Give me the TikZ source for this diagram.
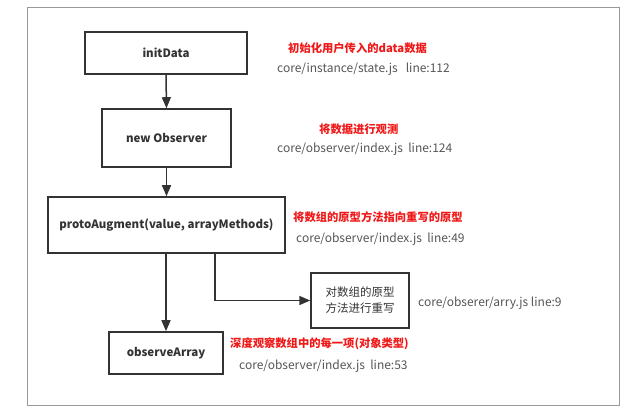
\documentclass[tikz,border=0pt]{standalone}
\usepackage{fontspec}
\setmainfont{Noto Sans CJK SC}
\usetikzlibrary{arrows.meta}
\definecolor{boxline}{HTML}{333333}
\definecolor{framegray}{HTML}{999999}
\definecolor{redtxt}{HTML}{F01818}
\definecolor{graytxt}{HTML}{555555}
\tikzset{
  flowbox/.style={draw=boxline, line width=1.6pt, fill=white, inner sep=0pt, font=\bfseries\fontsize{11.5}{13}\selectfont, text=boxline},
  notebox/.style={draw=boxline, line width=1.4pt, fill=white, inner sep=0pt, font=\fontsize{11.5}{16}\selectfont, text=boxline, align=center},
  redlabel/.style={anchor=west, inner sep=0pt, text=redtxt, font=\bfseries\fontsize{11.3}{13}\selectfont},
  graylabel/.style={anchor=west, inner sep=0pt, text=graytxt, font=\fontsize{12}{14}\selectfont},
  flowarrow/.style={draw=boxline, line width=1.5pt, -{Triangle[length=11pt,width=9pt]}},
}
\begin{document}
\begin{tikzpicture}[x=1pt,y=-1pt]
\useasboundingbox (0,0) rectangle (639,413);
\draw[framegray, line width=0.9pt] (27,7) rectangle (619,405);

\node[flowbox, minimum width=162pt, minimum height=42pt] (init) at (166,53) {initData};
\node[flowbox, minimum width=129pt, minimum height=58pt] (obs) at (166.5,138) {new Observer};
\node[flowbox, minimum width=237pt, minimum height=56pt] (proto) at (166.5,225) {protoAugment(value, arrayMethods)};
\node[flowbox, minimum width=114pt, minimum height=42pt] (arr) at (166,353) {observeArray};
\node[notebox, minimum width=98pt, minimum height=55pt] (rewrite) at (360,300.5) {对数组的原型\\方法进行重写};

\coordinate (branch) at (215,253);
\draw[flowarrow] (init.south) -- (obs.north);
\draw[flowarrow] (obs.south) -- (proto.north);
\draw[flowarrow] (proto.south -| arr.north) -- (arr.north);
\draw[flowarrow] (branch) |- (rewrite.west);

\node[redlabel] (r1) at (288,48) {初始化用户传入的data数据};
\node[graylabel] (g1) at (277,69) {core/instance/state.js\ \ \ line:112};
\node[redlabel] (r2) at (319,129) {将数据进行观测};
\node[graylabel] (g2) at (277,149) {core/observer/index.js\ \ line:124};
\node[redlabel] (r3) at (293,217) {将数组的原型方法指向重写的原型};
\node[graylabel] (g3) at (296,239) {core/observer/index.js\ \ line:49};
\node[graylabel] (g5) at (418,303) {core/obserer/arry.js line:9};
\node[redlabel] (r4) at (230,344) {深度观察数组中的每一项(对象类型)};
\node[graylabel] (g4) at (239,366) {core/observer/index.js\ \ line:53};
\end{tikzpicture}
\end{document}
